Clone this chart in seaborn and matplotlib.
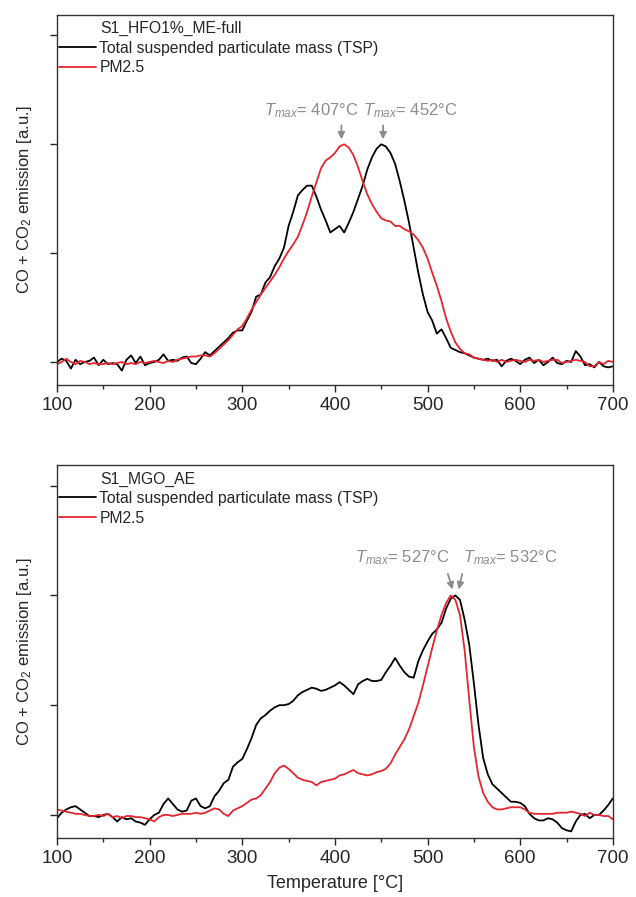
import matplotlib
matplotlib.use("Agg")
import matplotlib.pyplot as plt
import seaborn as sns
from matplotlib.ticker import MultipleLocator

# temperature grid of the measurements [°C]
temps = [100, 105, 110, 115, 120, 125, 130, 135, 140, 145, 150, 155, 160, 165, 170, 175,
         180, 185, 190, 195, 200, 205, 210, 215, 220, 225, 230, 235, 240, 245, 250, 255,
         260, 265, 270, 275, 280, 285, 290, 295, 300, 305, 310, 315, 320, 325, 330, 335,
         340, 345, 350, 355, 360, 365, 370, 375, 380, 385, 390, 395, 400, 405, 410, 415,
         420, 425, 430, 435, 440, 445, 450, 455, 460, 465, 470, 475, 480, 485, 490, 495,
         500, 505, 510, 515, 520, 525, 530, 535, 540, 545, 550, 555, 560, 565, 570, 575,
         580, 585, 590, 595, 600, 605, 610, 615, 620, 625, 630, 635, 640, 645, 650, 655,
         660, 665, 670, 675, 680, 685, 690, 695, 700]

# S1_HFO1%_ME-full
hfo_tsp = [0.00, 0.03, 0.01, -0.06, 0.02, -0.02, 0.00, 0.01, 0.04, -0.03, 0.02, -0.02, -0.01, -0.02, -0.08, 0.02,
           0.06, -0.01, 0.05, -0.03, -0.01, 0.00, 0.02, 0.07, 0.01, 0.02, 0.01, 0.04, 0.05, -0.01, -0.02, 0.03,
           0.09, 0.06, 0.10, 0.14, 0.18, 0.22, 0.27, 0.29, 0.29, 0.38, 0.46, 0.60, 0.62, 0.73, 0.78, 0.88,
           0.95, 1.05, 1.25, 1.38, 1.53, 1.58, 1.62, 1.62, 1.52, 1.40, 1.30, 1.19, 1.22, 1.25, 1.19, 1.28,
           1.38, 1.50, 1.62, 1.77, 1.88, 1.96, 2.00, 1.98, 1.92, 1.82, 1.66, 1.48, 1.28, 1.05, 0.82, 0.62,
           0.46, 0.38, 0.26, 0.30, 0.22, 0.13, 0.11, 0.09, 0.08, 0.06, 0.04, 0.03, 0.02, 0.03, 0.01, 0.02,
           -0.04, 0.01, 0.03, 0.01, -0.02, 0.02, 0.04, -0.01, 0.02, -0.03, 0.00, 0.04, -0.01, -0.02, 0.01, 0.00,
           0.10, 0.05, -0.03, -0.02, -0.05, 0.00, -0.04, -0.05, -0.04]
hfo_pm25 = [-0.02, 0.00, 0.03, 0.00, -0.02, 0.01, 0.00, -0.02, -0.01, -0.02, -0.02, -0.01, -0.02, -0.01, 0.00, -0.02,
            -0.01, -0.02, 0.00, -0.01, 0.00, 0.01, 0.00, -0.01, 0.01, 0.00, 0.02, 0.03, 0.04, 0.05, 0.05, 0.06,
            0.06, 0.05, 0.08, 0.12, 0.16, 0.20, 0.25, 0.30, 0.33, 0.40, 0.48, 0.55, 0.62, 0.68, 0.74, 0.80,
            0.87, 0.95, 1.02, 1.08, 1.15, 1.26, 1.38, 1.52, 1.65, 1.78, 1.85, 1.88, 1.92, 1.98, 2.00, 1.97,
            1.90, 1.79, 1.66, 1.54, 1.45, 1.38, 1.32, 1.30, 1.29, 1.25, 1.25, 1.22, 1.20, 1.17, 1.12, 1.05,
            0.95, 0.82, 0.70, 0.56, 0.40, 0.28, 0.18, 0.12, 0.08, 0.07, 0.04, 0.03, 0.02, 0.01, 0.02, 0.00,
            0.02, 0.00, 0.01, 0.02, 0.01, 0.00, 0.02, 0.01, 0.02, 0.00, 0.01, 0.02, 0.02, -0.01, 0.00, 0.01,
            0.02, 0.01, 0.00, -0.04, -0.04, 0.00, -0.02, 0.01, 0.00]

# S1_MGO_AE
mgo_tsp = [-0.03, 0.02, 0.05, 0.07, 0.08, 0.05, 0.02, -0.01, -0.01, -0.02, 0.00, 0.01, -0.02, -0.06, -0.02, -0.04,
           -0.03, -0.06, -0.07, -0.09, -0.04, 0.00, 0.02, 0.10, 0.15, 0.10, 0.05, 0.03, 0.04, 0.13, 0.15, 0.08,
           0.06, 0.08, 0.17, 0.22, 0.29, 0.32, 0.44, 0.48, 0.51, 0.60, 0.70, 0.82, 0.88, 0.91, 0.95, 0.98,
           1.00, 1.00, 1.01, 1.04, 1.09, 1.12, 1.14, 1.16, 1.15, 1.13, 1.14, 1.16, 1.18, 1.21, 1.18, 1.14,
           1.10, 1.19, 1.22, 1.24, 1.22, 1.22, 1.23, 1.30, 1.36, 1.43, 1.36, 1.30, 1.26, 1.25, 1.40, 1.50,
           1.58, 1.65, 1.69, 1.75, 1.88, 1.97, 2.00, 1.96, 1.78, 1.55, 1.20, 0.82, 0.52, 0.37, 0.28, 0.24,
           0.20, 0.16, 0.12, 0.12, 0.11, 0.08, 0.01, -0.03, -0.05, -0.05, -0.03, -0.04, -0.07, -0.12, -0.14, -0.15,
           -0.06, 0.00, 0.01, -0.03, 0.00, 0.00, 0.04, 0.09, 0.15]
mgo_pm25 = [0.05, 0.04, 0.03, 0.02, 0.01, 0.01, 0.00, -0.01, -0.01, 0.00, -0.01, 0.01, -0.02, -0.01, -0.03, -0.01,
            -0.01, -0.02, -0.02, -0.03, -0.04, -0.06, -0.02, 0.00, 0.00, -0.01, 0.00, 0.01, 0.01, 0.01, 0.02, 0.01,
            0.02, 0.04, 0.06, 0.05, 0.01, -0.01, 0.04, 0.06, 0.08, 0.11, 0.14, 0.15, 0.18, 0.24, 0.30, 0.38,
            0.43, 0.45, 0.42, 0.38, 0.34, 0.32, 0.31, 0.30, 0.27, 0.30, 0.31, 0.32, 0.33, 0.36, 0.37, 0.39,
            0.41, 0.38, 0.37, 0.36, 0.37, 0.39, 0.40, 0.42, 0.47, 0.55, 0.62, 0.69, 0.78, 0.90, 1.02, 1.18,
            1.35, 1.52, 1.68, 1.82, 1.93, 2.00, 1.96, 1.82, 1.50, 1.05, 0.62, 0.35, 0.20, 0.12, 0.07, 0.05,
            0.05, 0.06, 0.07, 0.07, 0.07, 0.05, 0.02, 0.01, 0.01, 0.01, 0.01, 0.01, 0.02, 0.02, 0.02, 0.03,
            0.02, 0.01, -0.01, 0.02, 0.00, 0.00, -0.01, -0.01, -0.04]

samples = ["S1_HFO1%_ME-full", "S1_MGO_AE"]
series_labels = ["Total suspended particulate mass (TSP)", "PM2.5"]
peak_temps = [[407, 452], [527, 532]]

sns.set_theme(style="ticks")
plt.rcParams["font.family"] = ["Liberation Sans", "DejaVu Sans"]
plt.rcParams["mathtext.fontset"] = "custom"
plt.rcParams["mathtext.rm"] = "Liberation Sans"
plt.rcParams["mathtext.it"] = "Liberation Sans:italic"

fig = plt.figure(figsize=(6.36, 8.97), dpi=100)
ax1 = fig.add_axes([0.0896, 0.571, 0.874, 0.4125])
ax2 = fig.add_axes([0.0896, 0.0658, 0.874, 0.416])

gray = "#8c8c8c"
red = "#e3262f"

panels = [(ax1, hfo_tsp, hfo_pm25), (ax2, mgo_tsp, mgo_pm25)]
for i, (ax, tsp, pm) in enumerate(panels):
    sns.lineplot(x=temps, y=tsp, color="black", lw=1.3, label=series_labels[0], ax=ax)
    sns.lineplot(x=temps, y=pm, color=red, lw=1.3, label=series_labels[1], ax=ax)

    ax.set_xlim(100, 700)
    ax.set_ylim(-0.21, 3.19)
    ax.xaxis.set_major_locator(MultipleLocator(100))
    ax.xaxis.set_minor_locator(MultipleLocator(50))
    ax.yaxis.set_major_locator(MultipleLocator(1))
    ax.set_yticklabels([])
    ax.tick_params(which="major", direction="out", length=5, width=1, labelsize=13.5)
    ax.tick_params(which="minor", direction="out", length=3, width=1)
    for sp in ax.spines.values():
        sp.set_linewidth(1.0)
        sp.set_color("#333333")
    ax.set_ylabel("CO + CO$_2$ emission [a.u.]", fontsize=12, labelpad=8)

    ax.text(0.077, 0.962, samples[i], transform=ax.transAxes, fontsize=11.3, va="center", ha="left")
    ax.legend(loc="upper left", bbox_to_anchor=(0.003, 0.93), frameon=False, fontsize=11.3,
              handlelength=2.4, handletextpad=0.2, borderpad=0, borderaxespad=0, labelspacing=0.3)

# peak annotations, top panel
for t, tx in zip(peak_temps[0], [375, 481]):
    ax1.annotate("", xy=(t, 2.02), xytext=(t, 2.2),
                 arrowprops=dict(arrowstyle="-|>", color=gray, lw=1.3, mutation_scale=10))
    ax1.text(tx, 2.31, "$T_{max}$= %d°C" % t, color=gray, fontsize=12, ha="center", va="center")

# peak annotations, bottom panel
for t, start, tip, tx in zip(peak_temps[1], [521, 538], [528, 533], [473, 589]):
    ax2.annotate("", xy=(tip, 2.03), xytext=(start, 2.22),
                 arrowprops=dict(arrowstyle="-|>", color=gray, lw=1.3, mutation_scale=10))
    ax2.text(tx, 2.34, "$T_{max}$= %d°C" % t, color=gray, fontsize=12, ha="center", va="center")

ax1.set_xlabel("")
ax2.set_xlabel("Temperature [°C]", fontsize=13, labelpad=6)

fig.savefig("out.png", dpi=100)
